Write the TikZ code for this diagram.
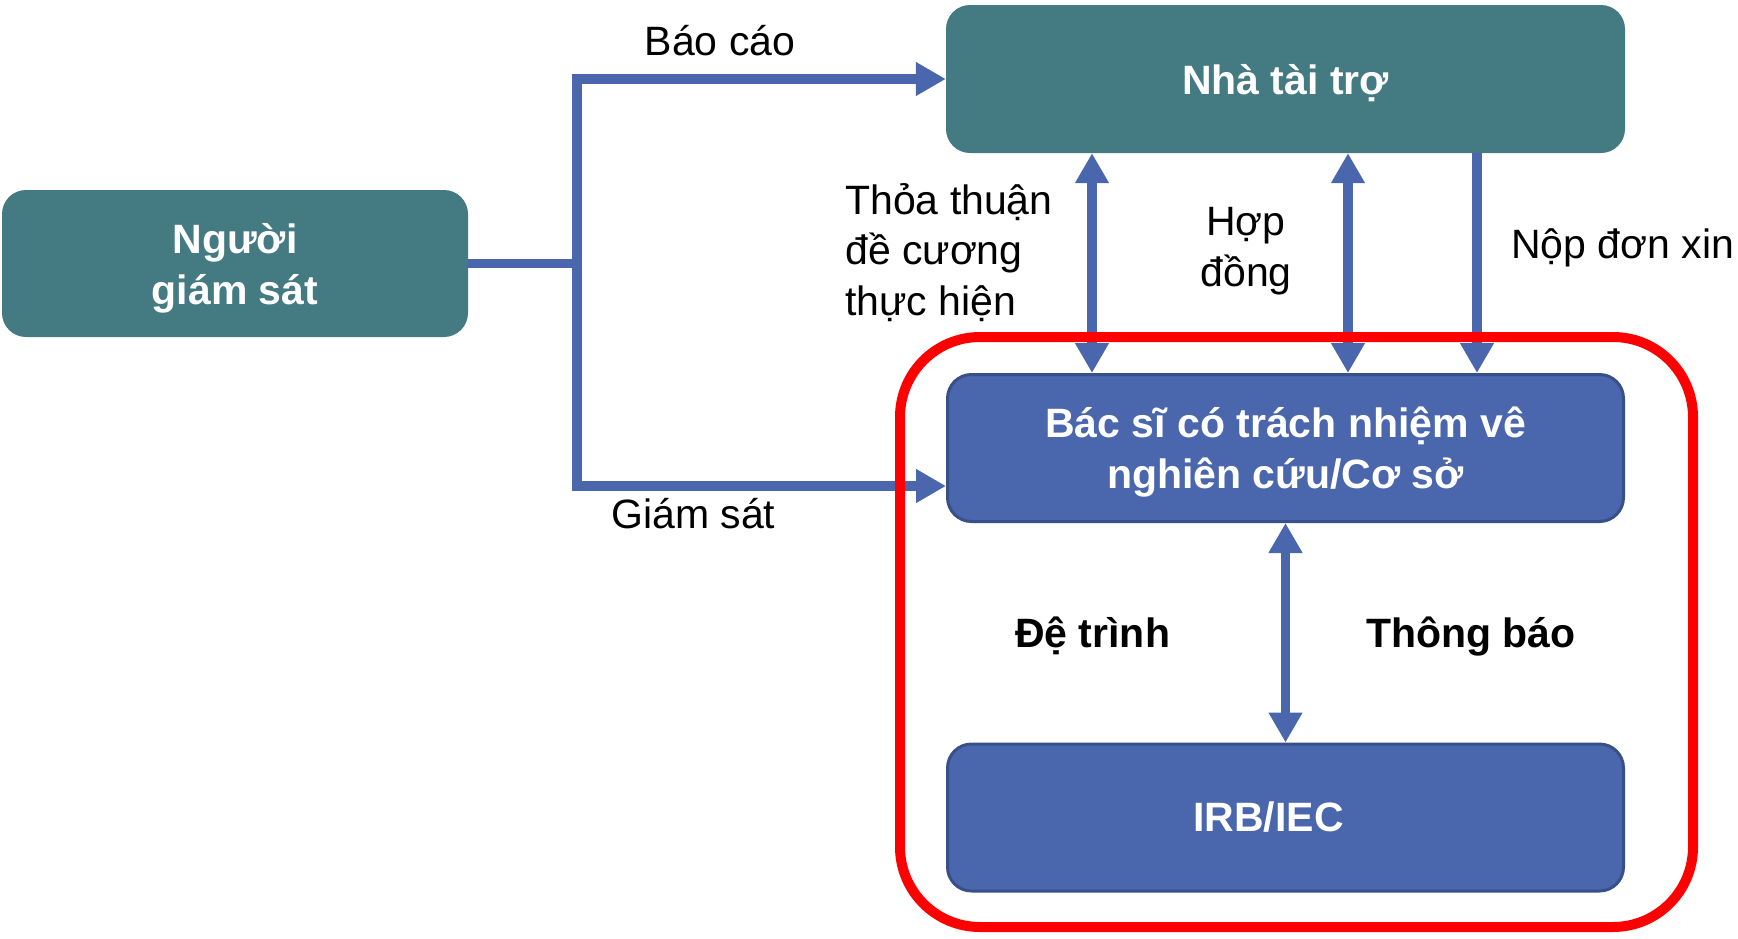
\documentclass[tikz,border=0pt]{standalone}
\usepackage{fontspec}
\setmainfont{Liberation Sans}
\usepackage{xcolor}
\usetikzlibrary{arrows.meta}

\definecolor{tealbox}{RGB}{68,122,130}
\definecolor{bluebox}{RGB}{74,102,172}
\definecolor{blueedge}{RGB}{56,80,138}
\definecolor{flowblue}{RGB}{74,102,172}
\newcommand{\txtsize}{\fontsize{41}{50.5}\selectfont}

\begin{document}
\begin{tikzpicture}[x={(1pt,0pt)}, y={(0pt,-1pt)},
  tealnode/.style={rectangle,rounded corners=24pt,fill=tealbox,inner sep=0pt},
  bluenode/.style={draw=blueedge,line width=3pt,rectangle,rounded corners=24pt,fill=bluebox,inner sep=0pt,minimum width=676pt,minimum height=147pt},
  boxtext/.style={text=white,font=\txtsize\bfseries,align=center,inner sep=0pt},
  flowline/.style={draw=flowblue,line width=9.5pt},
  flowarrow/.style={flowline,-{Triangle[length=30pt,width=32pt]}},
  flowboth/.style={flowline,{Triangle[length=30pt,width=32pt]}-{Triangle[length=30pt,width=32pt]}},
  caption/.style={font=\txtsize,inner sep=0pt}]
  \useasboundingbox (0,0) rectangle (1738,938);
  % Nodes
  \node[tealnode,minimum width=466pt,minimum height=147pt,
        label={[boxtext,yshift=-5pt]center:Người\\giám sát}] (Monitor) at (235,263.5) {};
  \node[tealnode,minimum width=679pt,minimum height=148pt,
        label={[boxtext,yshift=-4pt]center:Nhà tài trợ}] (Sponsor) at (1285.5,79) {};
  \node[bluenode,label={[boxtext,yshift=-4pt]center:Bác sĩ có trách nhiệm vê\\nghiên cứu/Cơ sở}] (Investigator) at (1285.5,448) {};
  \node[bluenode,label={[boxtext,xshift=-17pt]center:IRB/IEC}] (IRB) at (1285.5,817.5) {};
  \coordinate (Branch) at (577,263.5);
  % Edges
  \draw[flowline] (Monitor.east) -- (Branch);
  \draw[flowarrow] (Branch) |- (Sponsor.west);
  \draw[flowarrow] (Branch) |- ([yshift=-38pt]Investigator.west);
  \draw[flowboth] ([xshift=-193.5pt]Sponsor.south) -- ([xshift=-193.5pt]Investigator.north);
  \draw[flowboth] ([xshift=62.5pt]Sponsor.south) -- ([xshift=62.5pt]Investigator.north);
  \draw[flowarrow] ([xshift=191.5pt]Sponsor.south) -- ([xshift=191.5pt]Investigator.north);
  \draw[flowboth] (Investigator.south) -- (IRB.north);
  % Labels
  \node[caption,anchor=base] (BaoCao) at (720,55) {Báo cáo};
  \node[caption,anchor=base west] (GiamSat) at (611,528.5) {Giám sát};
  \node[caption,anchor=base west,align=left] (ThoaThuan) at (845,315) {Thỏa thuận\\đề cương\\thực hiện};
  \node[caption,anchor=base,align=center] (HopDong) at (1246,286) {Hợp\\đồng};
  \node[caption,anchor=base west] (NopDon) at (1511,258) {Nộp đơn xin};
  \node[caption,font=\txtsize\bfseries,anchor=base west] (DeTrinh) at (1015,647) {Đệ trình};
  \node[caption,font=\txtsize\bfseries,anchor=base west] (ThongBao) at (1366,647) {Thông báo};
  % Frame
  \draw[red,line width=10pt,rounded corners=80pt] (900,337) rectangle (1693,927);
\end{tikzpicture}
\end{document}
